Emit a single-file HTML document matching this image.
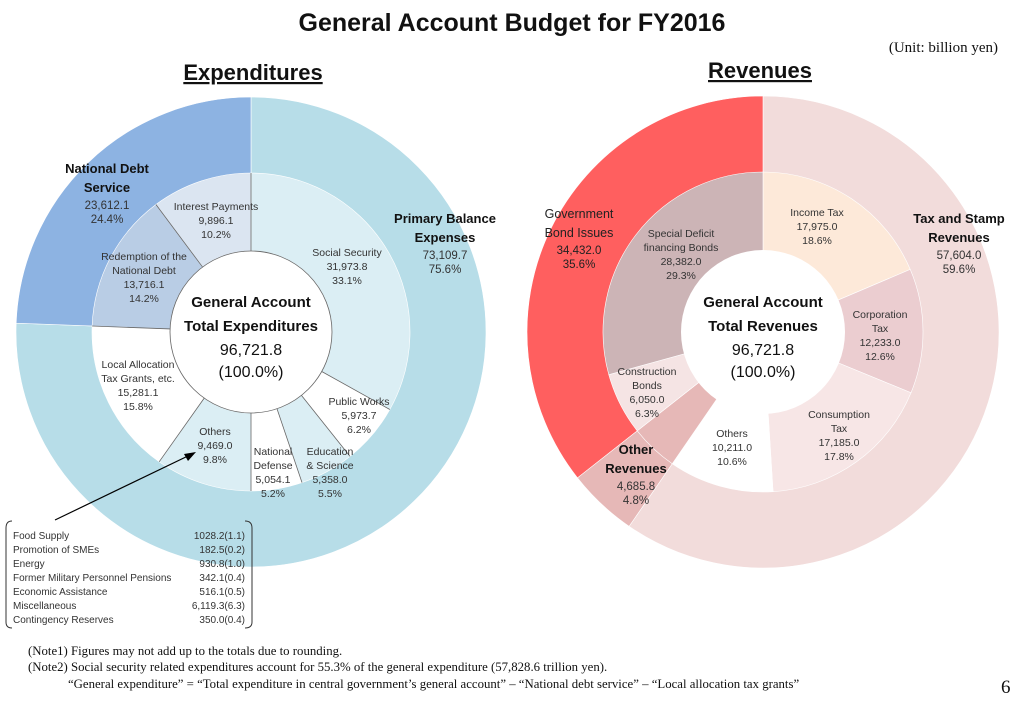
<!DOCTYPE html>
<html><head><meta charset="utf-8"><style>
body{margin:0;background:#fff;width:1024px;height:701px;overflow:hidden}
svg{display:block}
.s{font-family:"Liberation Sans",sans-serif;fill:#333}
.r{font-family:"Liberation Serif",serif;fill:#111}
</style></head><body>
<svg id="c" width="1024" height="701" xmlns="http://www.w3.org/2000/svg">
<g id="g"></g>
<text x="512" y="31" text-anchor="middle" font-family="Liberation Sans,sans-serif" font-weight="bold" font-size="25" fill="#111">General Account Budget for FY2016</text>
<text x="998" y="52" text-anchor="end" class="r" font-size="15">(Unit: billion yen)</text>
<text x="253" y="80" text-anchor="middle" font-family="Liberation Sans,sans-serif" font-weight="bold" font-size="22" fill="#111" text-decoration="underline">Expenditures</text>
<text x="760" y="78" text-anchor="middle" font-family="Liberation Sans,sans-serif" font-weight="bold" font-size="22" fill="#111" text-decoration="underline">Revenues</text>
<g id="t" class="s" font-size="10.5" text-anchor="middle"></g>
<line x1="55" y1="520" x2="190" y2="455" stroke="#000" stroke-width="1.2"/>
<polygon points="196,452 184,454 188,461" fill="#000"/>
<path d="M12,521 Q6,521 6,528 L6,622 Q6,628 12,628 M245,521 Q252,521 252,528 L252,622 Q252,628 245,628" fill="none" stroke="#333"/>
<g class="s" font-size="10">
<text x="13" y="539">Food Supply</text><text x="13" y="553">Promotion of SMEs</text><text x="13" y="567">Energy</text><text x="13" y="581">Former Military Personnel Pensions</text><text x="13" y="595">Economic Assistance</text><text x="13" y="609">Miscellaneous</text><text x="13" y="623">Contingency Reserves</text>
<g text-anchor="end"><text x="245" y="539">1028.2(1.1)</text><text x="245" y="553">182.5(0.2)</text><text x="245" y="567">930.8(1.0)</text><text x="245" y="581">342.1(0.4)</text><text x="245" y="595">516.1(0.5)</text><text x="245" y="609">6,119.3(6.3)</text><text x="245" y="623">350.0(0.4)</text></g>
</g>
<g class="r" font-size="12.8">
<text x="28" y="655">(Note1) Figures may not add up to the totals due to rounding.</text>
<text x="28" y="671">(Note2) Social security related expenditures account for 55.3% of the general expenditure (57,828.6 trillion yen).</text>
<text x="68" y="688">“General expenditure” = “Total expenditure in central government’s general account” – “National debt service” – “Local allocation tax grants”</text>
</g>
<text x="1001" y="693" class="r" font-size="19">6</text>
</svg>
<script>
var NS="http://www.w3.org/2000/svg",g=document.getElementById('g'),t=document.getElementById('t');
function pt(cx,cy,r,a){a=a*Math.PI/180;return [cx+r*Math.sin(a),cy-r*Math.cos(a)];}
function wedge(cx,cy,r0,r1,a0,a1,fill){
 var p0=pt(cx,cy,r1,a0),p1=pt(cx,cy,r1,a1),q1=pt(cx,cy,r0,a1),q0=pt(cx,cy,r0,a0),l=(a1-a0)>180?1:0;
 var d="M"+p0+" A"+r1+","+r1+" 0 "+l+" 1 "+p1+" L"+q1+" A"+r0+","+r0+" 0 "+l+" 0 "+q0+"Z";
 var e=document.createElementNS(NS,'path');e.setAttribute('d',d);e.setAttribute('fill',fill);e.setAttribute('stroke','#fff');e.setAttribute('stroke-width','0.6');g.appendChild(e);}
function seg(cx,cy,r0,r1,list){var a=0;list.forEach(function(s){var b=a+s[0]*3.6;if(s[1])wedge(cx,cy,r0,r1,a,b,s[1]);a=b;});}
function line(cx,cy,r0,r1,a){var p=pt(cx,cy,r0,a),q=pt(cx,cy,r1,a);var e=document.createElementNS(NS,'line');e.setAttribute('x1',p[0]);e.setAttribute('y1',p[1]);e.setAttribute('x2',q[0]);e.setAttribute('y2',q[1]);e.setAttribute('stroke','#666');e.setAttribute('stroke-width','0.8');g.appendChild(e);}
var L=[251,332];
seg(L[0],L[1],0,235,[[75.6,'#b7dde8'],[24.4,'#8db3e2']]);
var li=[[33.1,'#dbeef4'],[6.2,'#fff'],[5.5,'#dbeef4'],[5.2,'#fff'],[9.8,'#dbeef4'],[15.8,'#fff'],[14.2,'#b9cde5'],[10.2,'#dbe5f1']];
seg(L[0],L[1],81,159,li);
var a=0;li.forEach(function(s){line(L[0],L[1],81,159,a);a+=s[0]*3.6;});
var c=document.createElementNS(NS,'circle');c.setAttribute('cx',L[0]);c.setAttribute('cy',L[1]);c.setAttribute('r',81);c.setAttribute('fill','#fff');c.setAttribute('stroke','#666');c.setAttribute('stroke-width','0.8');g.appendChild(c);
var R=[763,332];
seg(R[0],R[1],0,236,[[59.6,'#f2dcdb'],[4.8,'#e6b8b7'],[35.6,'#ff5f5f']]);
seg(R[0],R[1],81,160,[[18.6,'#fde9d9'],[12.6,'#ebcdd0'],[17.8,'#f7e6e6'],[10.6,'#fff'],[4.8,'#e6b8b7'],[6.3,'#f5e4e4'],[29.3,'#ccb4b6']]);
c=document.createElementNS(NS,'circle');c.setAttribute('cx',R[0]);c.setAttribute('cy',R[1]);c.setAttribute('r',82);c.setAttribute('fill','#fff');g.appendChild(c);
function T(x,y,lines,opt){opt=opt||{};lines.forEach(function(s,i){var e=document.createElementNS(NS,'text');e.setAttribute('x',x);e.setAttribute('y',y+i*(opt.lh||14));if(opt.fs)e.setAttribute('font-size',opt.fs);if(opt.b&&i<opt.b){e.setAttribute('font-weight','bold');e.setAttribute('fill','#111');}if(opt.c)e.setAttribute('fill',opt.c);e.textContent=s;t.appendChild(e);});}
T(107,173,['National Debt','Service'],{fs:13,b:2,lh:19});T(107,209,['23,612.1','24.4%'],{fs:11.5,lh:14});
T(445,223,['Primary Balance','Expenses'],{fs:13,b:2,lh:19});T(445,259,['73,109.7','75.6%'],{fs:11.5});
T(216,210,['Interest Payments','9,896.1','10.2%']);
T(144,260,['Redemption of the','National Debt','13,716.1','14.2%']);
T(347,256,['Social Security','31,973.8','33.1%']);
T(138,368,['Local Allocation','Tax Grants, etc.','15,281.1','15.8%']);
T(359,405,['Public Works','5,973.7','6.2%']);
T(215,435,['Others','9,469.0','9.8%']);
T(273,455,['National','Defense','5,054.1','5.2%']);
T(330,455,['Education','& Science','5,358.0','5.5%']);
T(251,307,['General Account','Total Expenditures'],{fs:15,b:2,lh:24});T(251,355,['96,721.8','(100.0%)'],{fs:16,lh:22,c:'#111'});
T(579,218,['Government','Bond Issues'],{fs:12.5,lh:19,c:'#222'});T(579,254,['34,432.0','35.6%'],{fs:11.5,c:'#222'});
T(959,223,['Tax and Stamp','Revenues'],{fs:13,b:2,lh:19});T(959,259,['57,604.0','59.6%'],{fs:11.5});
T(817,216,['Income Tax','17,975.0','18.6%']);
T(681,237,['Special Deficit','financing Bonds','28,382.0','29.3%']);
T(880,318,['Corporation','Tax','12,233.0','12.6%']);
T(647,375,['Construction','Bonds','6,050.0','6.3%']);
T(839,418,['Consumption','Tax','17,185.0','17.8%']);
T(732,437,['Others','10,211.0','10.6%']);
T(636,454,['Other','Revenues'],{fs:13,b:2,lh:19});T(636,490,['4,685.8','4.8%'],{fs:11.5});
T(763,307,['General Account','Total Revenues'],{fs:15,b:2,lh:24});T(763,355,['96,721.8','(100.0%)'],{fs:16,lh:22,c:'#111'});
</script>
</body></html>
